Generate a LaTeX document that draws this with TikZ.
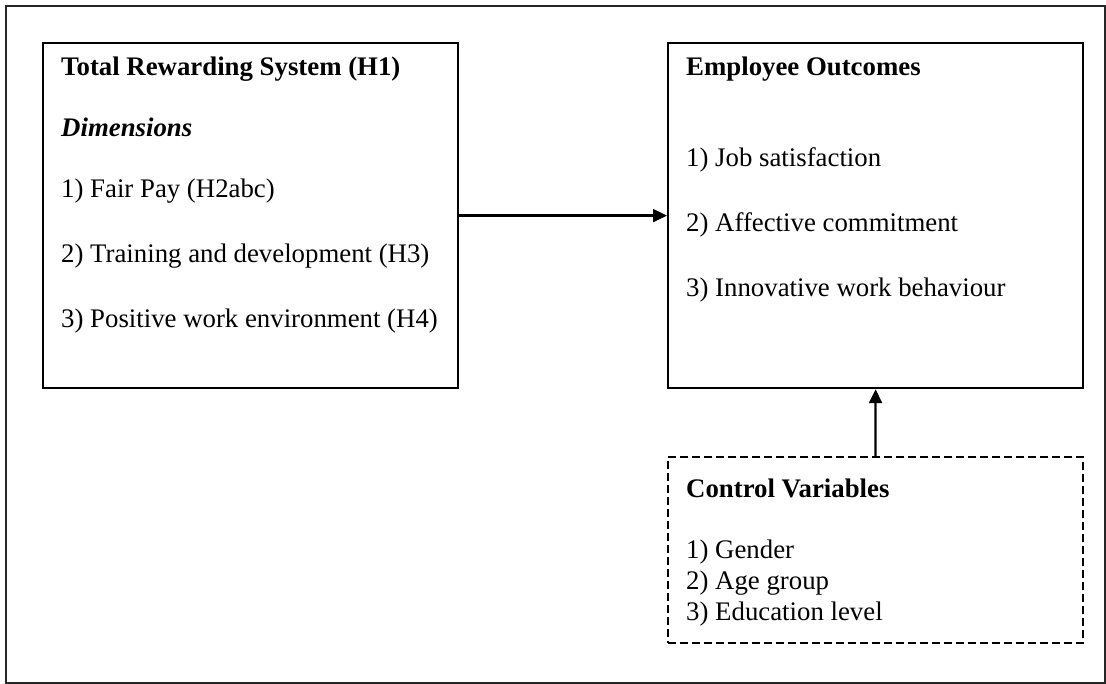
\documentclass[tikz,border=0pt]{standalone}
\usepackage{fontspec}
\setmainfont{Liberation Serif}
\usetikzlibrary{arrows.meta}
\tikzset{
  boxnode/.style={draw=black, line width=2.2pt, minimum width=415pt, minimum height=345pt, anchor=north west, inner sep=0pt},
  dashbox/.style={draw=black, line width=2pt, dash pattern=on 8pt off 4pt, minimum width=415pt, minimum height=186pt, anchor=north west, inner sep=0pt},
  txt/.style={anchor=base west, inner sep=0pt, font=\fontsize{26.8}{30}\selectfont},
  ttl/.style={txt, font=\fontsize{26.8}{30}\selectfont\bfseries},
  arr/.style={line width=2.2pt, -{Triangle[length=14pt,width=13pt]}},
}
\begin{document}
\begin{tikzpicture}[x=1pt,y=-1pt]
\useasboundingbox (0,0) rectangle (1106,684);
\draw[line width=1.8pt, draw=black!85] (6,6) rectangle (1105,683);
% boxes
\node[boxnode] (left) at (42,42) {};
\node[boxnode] (right) at (667,42) {};
\node[dashbox] (ctrl) at (667,456) {};
% left texts
\node[ttl] (l1) at (61,76) {Total Rewarding System (H1)};
\node[txt, font=\fontsize{26.8}{30}\selectfont\bfseries\itshape] (l2) at (61,137) {Dimensions};
\node[txt] (l3) at (61,198) {1) Fair Pay (H2abc)};
\node[txt] (l4) at (61,263) {2) Training and development (H3)};
\node[txt] (l5) at (61,328) {3) Positive work environment (H4)};
% right texts
\node[ttl] (r1) at (686,76) {Employee Outcomes};
\node[txt] (r2) at (686,167) {1) Job satisfaction};
\node[txt] (r3) at (686,232) {2) Affective commitment};
\node[txt] (r4) at (686,297) {3) Innovative work behaviour};
% control texts
\node[ttl] (c1) at (686,497) {Control Variables};
\node[txt] (c2) at (686,558) {1) Gender};
\node[txt] (c3) at (686,589) {2) Age group};
\node[txt] (c4) at (686,620) {3) Education level};
% arrows
\draw[arr] (left.east) -- (right.west);
\draw[arr] (ctrl.north) -- (right.south);
\end{tikzpicture}
\end{document}
